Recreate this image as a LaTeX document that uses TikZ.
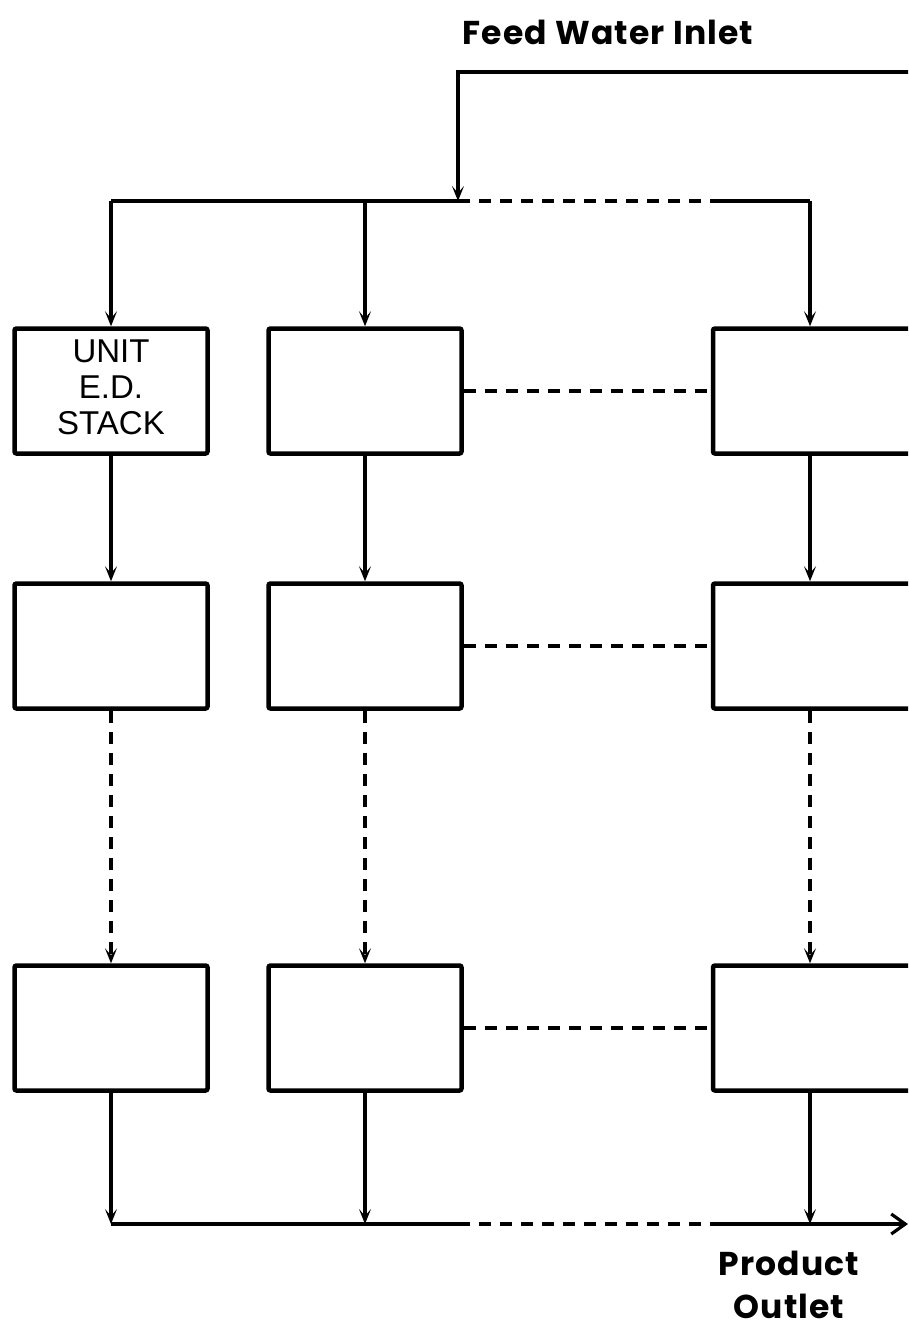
\documentclass[tikz,border=0pt]{standalone}
\usepackage{fontspec}
\usetikzlibrary{arrows.meta}
\newfontfamily\headfont{Poppins}[LetterSpace=3.5]
\newfontfamily\stackfont{Liberation Sans}
\tikzset{
  stackbox/.style={draw, line width=4.5pt, rounded corners=2pt, minimum width=193pt, minimum height=125pt, inner sep=0pt},
  wideboxr/.style={stackbox, minimum width=200pt},
  flow/.style={line width=3.2pt},
  flowarrow/.style={flow, -{Stealth[length=15pt,width=12pt,inset=7pt]}},
  linkdash/.style={line width=3.2pt, dash pattern=on 12pt off 9pt},
  dasharrow/.style={linkdash, -{Stealth[length=15pt,width=12pt,inset=7pt]}},
  outarrow/.style={flow, -{Straight Barb[length=14pt,width=20pt,line width=3.2pt]}},
  headlabel/.style={font=\headfont\bfseries\fontsize{33}{36}\selectfont, inner sep=0pt, align=center},
}
\begin{document}
\begin{tikzpicture}[x=1pt, y=-1pt]
  \useasboundingbox (0,0) rectangle (908,1333);
  \clip (0,0) rectangle (908,1333);

  % labels
  \node[headlabel] (feedlbl) at (608,32) {Feed Water Inlet};
  \node[headlabel, font=\headfont\bfseries\fontsize{33}{43}\selectfont] (prodlbl) at (789,1285) {Product\\Outlet};

  % stacks: three columns, three rows
  \node[stackbox] (b11) at (111,391) {\stackfont\fontsize{33}{36}\selectfont\begin{tabular}{@{}c@{}}UNIT\\E.D.\\STACK\end{tabular}};
  \node[stackbox] (b12) at (365,391) {};
  \node[wideboxr] (b13) at (813,391) {};
  \node[stackbox] (b21) at (111,646) {};
  \node[stackbox] (b22) at (365,646) {};
  \node[wideboxr] (b23) at (813,646) {};
  \node[stackbox] (b31) at (111,1028) {};
  \node[stackbox] (b32) at (365,1028) {};
  \node[wideboxr] (b33) at (813,1028) {};

  % feed header
  \coordinate (feedin) at (915,72);
  \coordinate (feedcorner) at (458,72);
  \coordinate (feedjoin) at (458,201);
  \coordinate (top1) at (111,201);
  \coordinate (top2) at (365,201);
  \coordinate (topdash) at (715,201);
  \coordinate (top3) at (810,201);

  % product header
  \coordinate (bot1) at (111,1224);
  \coordinate (bot2) at (365,1224);
  \coordinate (botdash) at (458,1224);
  \coordinate (botsolid) at (716,1224);
  \coordinate (bot3) at (810,1224);
  \coordinate (prodout) at (908,1224);

  \draw[flowarrow] (feedin) -- (feedcorner) -- (feedjoin);
  \draw[flow] (feedjoin) -- (top1);
  \draw[linkdash] (feedjoin) -- (topdash);
  \draw[flow] (topdash) -- (top3);

  \draw[flowarrow] (top1) -- (b11.north);
  \draw[flowarrow] (top2) -- (b12.north);
  \draw[flowarrow] (top3) -- (b13.north -| top3);

  \draw[flowarrow] (b11.south) -- (b21.north);
  \draw[flowarrow] (b12.south) -- (b22.north);
  \draw[flowarrow] (b13.south -| top3) -- (b23.north -| top3);

  \draw[dasharrow] (b21.south) -- (b31.north);
  \draw[dasharrow] (b22.south) -- (b32.north);
  \draw[dasharrow] (b23.south -| top3) -- (b33.north -| top3);

  \draw[flowarrow] (b31.south) -- (bot1);
  \draw[flowarrow] (b32.south) -- (bot2);
  \draw[flowarrow] (b33.south -| top3) -- (bot3);

  \draw[flow] (bot1) -- (botdash);
  \draw[linkdash] (botdash) -- (botsolid);
  \draw[outarrow] (botsolid) -- (prodout);

  % cross links between the second and last column
  \draw[linkdash] (b12.east) -- (b13.west);
  \draw[linkdash] (b22.east) -- (b23.west);
  \draw[linkdash] (b32.east) -- (b33.west);
\end{tikzpicture}
\end{document}
